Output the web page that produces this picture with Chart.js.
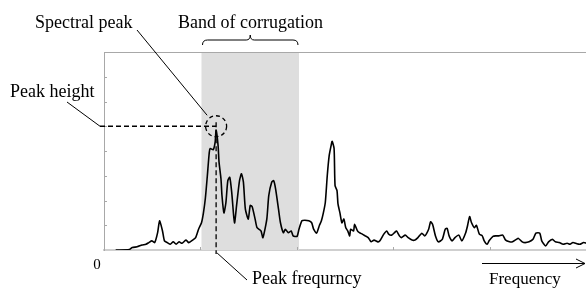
<!DOCTYPE html>
<html>
<head>
<meta charset="utf-8">
<script src="https://cdn.jsdelivr.net/npm/chart.js@4.4.1/dist/chart.umd.min.js"></script>
<style>
  html, body { margin: 0; padding: 0; background: #fff; }
  #wrap { width: 586px; height: 288px; }
</style>
</head>
<body>
<div id="wrap"><canvas id="spectrum"></canvas></div>
<script>
const freq = [
  12, 26, 29, 34, 39, 43, 46, 49, 52, 55,
  57, 60, 62, 65, 68, 71, 74, 77, 80, 84,
  87, 91, 94, 97, 100, 102, 104, 106, 108, 109,
  112, 114, 115, 117, 118, 120, 121, 123, 125, 127,
  129, 131, 133, 134, 136, 139, 141, 143, 145, 148,
  150, 152, 155, 157, 161, 163, 167, 169, 172, 174,
  176, 179, 181, 184, 186, 189, 192, 194, 198, 200,
  203, 206, 210, 213, 215, 218, 221, 223, 225, 227,
  229, 231, 233, 234, 236, 237, 239, 240, 242, 244,
  246, 248, 250, 252, 253, 256, 257, 260, 262, 265,
  268, 271, 274, 277, 281, 283, 287, 290, 292, 295,
  298, 300, 303, 305, 309, 312, 316, 319, 322, 326,
  329, 333, 335, 337, 340, 343, 347, 350, 352, 354,
  357, 360, 364, 367, 371, 373, 375, 377, 380, 382,
  385, 388, 390, 393, 395, 399, 402, 405, 409, 412,
  416, 419, 423, 425, 429, 432, 436, 440, 443, 447,
  449, 453, 456, 460, 463, 467, 471, 475, 478, 481,
  485, 488, 492, 495
];
const amp = [
  0, 0.02, 0.1, 0.13, 0.2, 0.23, 0.3, 0.37, 0.3, 0.7,
  1.18, 0.77, 0.37, 0.3, 0.23, 0.33, 0.23, 0.33, 0.27, 0.4,
  0.3, 0.4, 0.5, 0.84, 1.1, 1.5, 2.1, 3.0, 3.95, 4.1,
  4.05, 4.36, 4.85, 4.23, 3.55, 2.87, 2.2, 1.5, 1.9, 2.8,
  2.94, 2.33, 1.38, 1.1, 1.8, 2.8, 3.08, 2.74, 1.65, 1.25,
  1.8, 1.75, 1.25, 0.9, 0.77, 0.5, 1.25, 2.2, 2.74, 2.8,
  2.47, 1.65, 1.1, 0.7, 0.84, 0.7, 0.77, 0.57, 0.55, 0.84,
  1.18, 1.2, 1.18, 1.1, 0.84, 0.68, 1.0, 1.18, 1.5, 1.92,
  3.0, 3.82, 4.23, 4.39, 4.1, 2.6, 2.4, 1.86, 1.5, 1.1,
  1.25, 0.9, 0.77, 0.57, 0.84, 0.77, 1.04, 0.77, 0.7, 0.64,
  0.57, 0.5, 0.33, 0.4, 0.33, 0.37, 0.64, 0.77, 0.64, 0.6,
  0.7, 0.77, 0.57, 0.5, 0.6, 0.5, 0.4, 0.4, 0.5, 0.68,
  0.57, 0.84, 1.14, 1.04, 0.57, 0.33, 0.43, 0.84, 0.87, 0.57,
  0.37, 0.5, 0.6, 0.37, 0.7, 1.0, 1.35, 1.1, 0.9, 1.0,
  0.64, 0.57, 0.37, 0.23, 0.37, 0.55, 0.57, 0.57, 0.6, 0.4,
  0.33, 0.33, 0.43, 0.47, 0.33, 0.3, 0.33, 0.43, 0.68, 0.68,
  0.37, 0.16, 0.33, 0.43, 0.33, 0.3, 0.23, 0.27, 0.23, 0.3,
  0.25, 0.23, 0.3, 0.27
];

// corrugation band and the marked peak, in data units
const band = [100, 200];
const peakFreq = 115;
const peakHeight = 5;

const labels = {
  spectral: 'Spectral peak',
  band: 'Band of corrugation',
  height: 'Peak height',
  freq: 'Peak frequrncy',
  axis: 'Frequency',
  zero: '0'
};

const SERIF = '"Liberation Serif", "DejaVu Serif", serif';

function dashedLine(ctx, x1, y1, x2, y2) {
  ctx.save();
  ctx.setLineDash([5, 3]);
  ctx.beginPath();
  ctx.moveTo(x1, y1);
  ctx.lineTo(x2, y2);
  ctx.stroke();
  ctx.restore();
}

function line(ctx, x1, y1, x2, y2) {
  ctx.beginPath();
  ctx.moveTo(x1, y1);
  ctx.lineTo(x2, y2);
  ctx.stroke();
}

const bandPlugin = {
  id: 'bandPlugin',
  beforeDatasetsDraw(chart) {
    const {ctx, chartArea: a, scales: {x, y}} = chart;
    ctx.save();
    ctx.fillStyle = '#dedede';
    const x1 = x.getPixelForValue(band[0]);
    const x2 = x.getPixelForValue(band[1]);
    ctx.fillRect(x1, a.top, x2 - x1, a.bottom - a.top);

    // frame top and inward ticks
    ctx.strokeStyle = '#a8a8a8';
    ctx.lineWidth = 1;
    line(ctx, a.left, a.top + 0.5, a.right, a.top + 0.5);
    y.ticks.forEach(t => {
      if (t.value <= 0 || t.value >= 8) return;
      const py = Math.round(y.getPixelForValue(t.value)) + 0.5;
      line(ctx, a.left, py, a.left + 3, py);
    });
    x.ticks.forEach(t => {
      if (t.value <= 0) return;
      const px = Math.round(x.getPixelForValue(t.value)) + 0.5;
      line(ctx, px, a.bottom, px, a.bottom - 3);
    });
    ctx.restore();
  },
  afterDatasetsDraw(chart) {
    const {ctx, chartArea: a, scales: {x, y}} = chart;
    const cx = x.getPixelForValue(peakFreq);
    const cy = y.getPixelForValue(peakHeight);
    const r = 10.5;
    ctx.save();
    ctx.strokeStyle = '#000';
    ctx.lineWidth = 1.3;

    // peak circle and guides
    ctx.save();
    ctx.setLineDash([4, 3]);
    ctx.beginPath();
    ctx.ellipse(cx, cy, r, r, 0, 0, Math.PI * 2);
    ctx.stroke();
    ctx.restore();
    dashedLine(ctx, a.left - 4, cy, cx, cy);
    dashedLine(ctx, cx, cy - 4, cx, a.bottom + 4);

    // leaders
    ctx.lineWidth = 1;
    line(ctx, 137, 30, cx - 9, cy - 11);
    line(ctx, 67, 102, a.left - 4, cy);
    line(ctx, cx + 1, a.bottom + 3, 247, 280);

    // brace over the band
    const b1 = x.getPixelForValue(band[0]);
    const b2 = x.getPixelForValue(band[1]);
    const bm = (b1 + b2) / 2;
    ctx.beginPath();
    ctx.moveTo(b1 + 1, 45);
    ctx.quadraticCurveTo(b1 + 1, 40, b1 + 6, 40);
    ctx.lineTo(bm - 4, 40);
    ctx.quadraticCurveTo(bm, 40, bm, 35);
    ctx.quadraticCurveTo(bm, 40, bm + 4, 40);
    ctx.lineTo(b2 - 6, 40);
    ctx.quadraticCurveTo(b2 - 1, 40, b2 - 1, 45);
    ctx.stroke();

    // frequency arrow
    line(ctx, 482, 263.5, 585, 263.5);
    line(ctx, 576, 259, 585, 263.5);
    line(ctx, 576, 268, 585, 263.5);

    // text
    ctx.fillStyle = '#000';
    ctx.font = '18px ' + SERIF;
    ctx.textBaseline = 'alphabetic';
    ctx.textAlign = 'left';
    ctx.fillText(labels.spectral, 35, 28);
    ctx.fillText(labels.band, 178, 28);
    ctx.fillText(labels.height, 10, 97);
    ctx.fillText(labels.freq, 252, 284);
    ctx.font = '17px ' + SERIF;
    ctx.fillText(labels.axis, 489, 284);
    ctx.font = '15px ' + SERIF;
    ctx.textAlign = 'center';
    ctx.fillText(labels.zero, 97, 269);
    ctx.restore();
  }
};

const ctx = document.getElementById('spectrum').getContext('2d');
const chart = new Chart(ctx, {
  type: 'line',
  data: {
    datasets: [{
      data: freq.map((f, i) => ({x: f, y: amp[i]})),
      borderColor: '#000',
      borderWidth: 1.6,
      pointRadius: 0,
      tension: 0.2,
      fill: false
    }]
  },
  options: {
    responsive: true,
    maintainAspectRatio: false,
    animation: false,
    layout: {
      padding: {left: 104, top: 52, right: 0, bottom: 38}
    },
    plugins: {
      legend: {display: false},
      tooltip: {enabled: false}
    },
    scales: {
      x: {
        type: 'linear',
        min: 0,
        max: 494.4,
        ticks: {display: false, stepSize: 100},
        grid: {display: false, drawTicks: false},
        border: {display: true, color: '#cfcfcf', width: 2}
      },
      y: {
        min: 0,
        max: 8,
        ticks: {display: false, stepSize: 1},
        grid: {display: false, drawTicks: false},
        border: {display: true, color: '#a8a8a8', width: 1}
      }
    }
  },
  plugins: [bandPlugin]
});
</script>
</body>
</html>
